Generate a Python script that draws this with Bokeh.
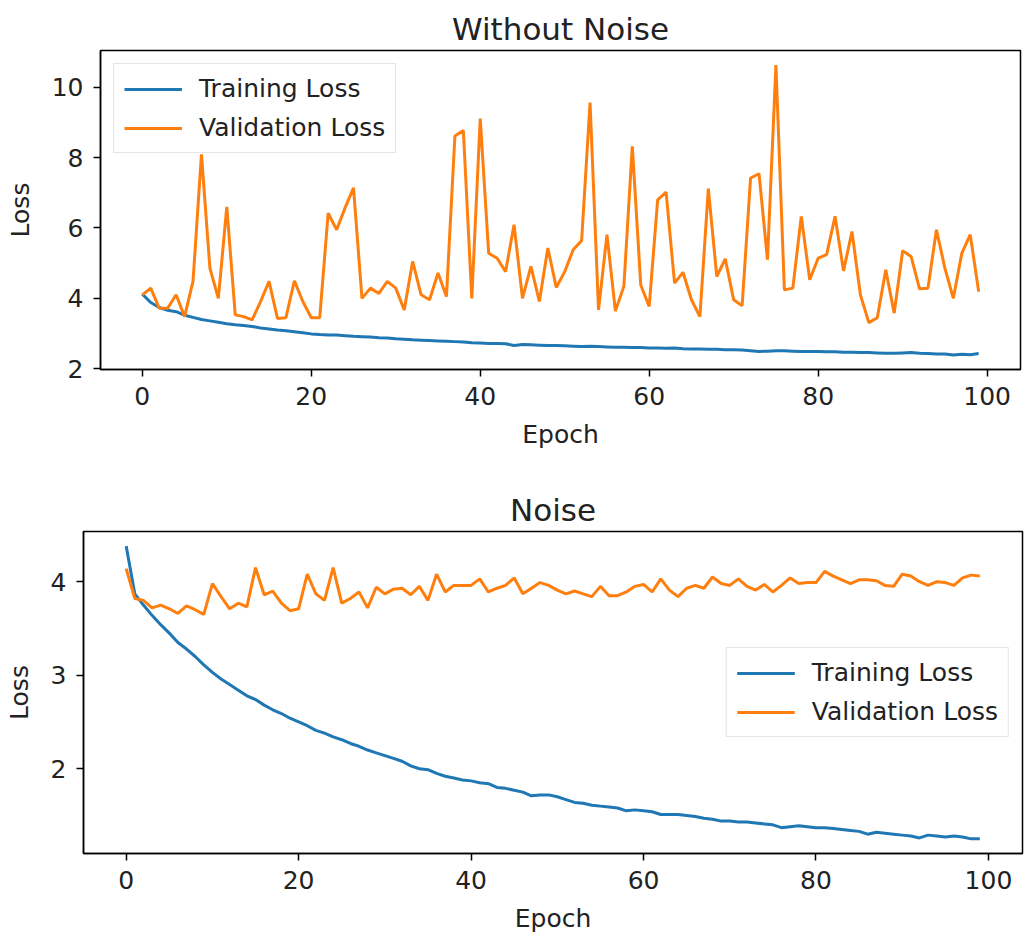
from bokeh.plotting import figure
from bokeh.layouts import column
from bokeh.models import FixedTicker, Range1d, Legend, LegendItem
from bokeh.embed import file_html
from bokeh.resources import INLINE

epochs = list(range(100))

train_clean = [4.12, 3.88, 3.74, 3.66, 3.62, 3.52, 3.46, 3.40, 3.36, 3.32,
               3.28, 3.25, 3.23, 3.20, 3.16, 3.13, 3.10, 3.08, 3.05, 3.02,
               2.99, 2.97, 2.96, 2.96, 2.94, 2.92, 2.91, 2.90, 2.88, 2.87,
               2.85, 2.84, 2.82, 2.81, 2.80, 2.79, 2.78, 2.77, 2.76, 2.74,
               2.73, 2.72, 2.72, 2.71, 2.66, 2.69, 2.68, 2.67, 2.66, 2.66,
               2.65, 2.64, 2.63, 2.64, 2.63, 2.62, 2.61, 2.61, 2.60, 2.60,
               2.59, 2.59, 2.58, 2.59, 2.57, 2.56, 2.56, 2.55, 2.55, 2.54,
               2.54, 2.53, 2.51, 2.49, 2.50, 2.51, 2.51, 2.50, 2.49, 2.49,
               2.49, 2.48, 2.48, 2.47, 2.47, 2.46, 2.46, 2.45, 2.44, 2.44,
               2.45, 2.46, 2.44, 2.43, 2.42, 2.42, 2.39, 2.41, 2.40, 2.43]

val_clean = [4.10, 4.29, 3.72, 3.72, 4.10, 3.48, 4.48, 8.09, 4.86, 4.00,
             6.60, 3.53, 3.48, 3.39, 3.91, 4.48, 3.43, 3.45, 4.50, 3.91,
             3.45, 3.45, 6.42, 5.95, 6.57, 7.14, 4.00, 4.29, 4.14, 4.48,
             4.29, 3.67, 5.05, 4.10, 3.96, 4.72, 4.05, 8.61, 8.77, 4.00,
             9.11, 5.28, 5.14, 4.76, 6.09, 4.00, 4.91, 3.91, 5.43, 4.31,
             4.76, 5.38, 5.64, 9.56, 3.67, 5.81, 3.64, 4.34, 8.32, 4.38,
             3.77, 6.80, 7.02, 4.43, 4.74, 3.96, 3.48, 7.12, 4.62, 5.12,
             3.96, 3.79, 7.42, 7.54, 5.10, 10.63, 4.24, 4.29, 6.33, 4.53,
             5.14, 5.24, 6.33, 4.78, 5.90, 4.10, 3.31, 3.45, 4.81, 3.58,
             5.35, 5.19, 4.27, 4.29, 5.95, 4.86, 4.00, 5.28, 5.81, 4.19]

train_noise = [4.38, 3.87, 3.75, 3.64, 3.54, 3.45, 3.35, 3.28, 3.20, 3.11,
               3.03, 2.96, 2.90, 2.84, 2.78, 2.74, 2.68, 2.63, 2.59, 2.54,
               2.50, 2.46, 2.41, 2.38, 2.34, 2.31, 2.27, 2.24, 2.20, 2.17,
               2.14, 2.11, 2.08, 2.03, 2.00, 1.99, 1.95, 1.92, 1.90, 1.88,
               1.87, 1.85, 1.84, 1.80, 1.79, 1.77, 1.75, 1.71, 1.72, 1.72,
               1.70, 1.67, 1.64, 1.63, 1.61, 1.60, 1.59, 1.58, 1.55, 1.56,
               1.55, 1.54, 1.51, 1.51, 1.51, 1.50, 1.49, 1.47, 1.46, 1.44,
               1.44, 1.43, 1.43, 1.42, 1.41, 1.40, 1.37, 1.38, 1.39, 1.38,
               1.37, 1.37, 1.36, 1.35, 1.34, 1.33, 1.30, 1.32, 1.31, 1.30,
               1.29, 1.28, 1.26, 1.29, 1.28, 1.27, 1.28, 1.27, 1.25, 1.25]

val_noise = [4.14, 3.82, 3.80, 3.72, 3.75, 3.71, 3.66, 3.74, 3.70, 3.65,
             3.98, 3.84, 3.71, 3.77, 3.73, 4.15, 3.86, 3.90, 3.77, 3.69,
             3.71, 4.08, 3.87, 3.80, 4.15, 3.77, 3.82, 3.89, 3.72, 3.94,
             3.87, 3.92, 3.93, 3.86, 3.95, 3.80, 4.08, 3.89, 3.96, 3.96,
             3.96, 4.03, 3.89, 3.93, 3.96, 4.04, 3.87, 3.93, 3.99, 3.96,
             3.91, 3.87, 3.90, 3.87, 3.84, 3.95, 3.85, 3.85, 3.89, 3.95,
             3.97, 3.89, 4.03, 3.91, 3.84, 3.93, 3.96, 3.93, 4.05, 3.98,
             3.96, 4.03, 3.95, 3.91, 3.97, 3.89, 3.96, 4.04, 3.98, 3.99,
             3.99, 4.11, 4.06, 4.02, 3.98, 4.02, 4.02, 4.01, 3.96, 3.95,
             4.08, 4.06, 4.00, 3.96, 4.00, 3.99, 3.96, 4.04, 4.07, 4.06]

x_ticks = [0, 20, 40, 60, 80, 100]
y_ticks_clean = [2, 4, 6, 8, 10]
y_ticks_noise = [2, 3, 4]

BLUE = "#1f77b4"
ORANGE = "#ff7f0e"
TXT = "#222222"
FONT = "DejaVu Sans"


def padded(vals):
    lo, hi = min(vals), max(vals)
    m = 0.05 * (hi - lo)
    return lo - m, hi + m


def make(title, train, val, yticks, w, h, bl, br, bt, bb, legend_loc):
    xr = padded(epochs)
    yr = padded(train + val)
    p = figure(width=w, height=h, output_backend="svg", toolbar_location=None,
               x_range=Range1d(*xr), y_range=Range1d(*yr),
               min_border_left=bl, min_border_right=br,
               min_border_top=bt, min_border_bottom=bb,
               title=title)
    p.title.align = "center"
    p.title.text_font = FONT
    p.title.text_font_size = "31px"
    p.title.text_font_style = "normal"
    p.title.text_color = TXT
    p.title.standoff = 8
    p.xgrid.visible = False
    p.ygrid.visible = False
    p.outline_line_color = "black"
    p.outline_line_width = 1.5
    p.background_fill_color = "white"
    p.border_fill_color = "white"

    l1 = p.line(epochs, train, line_color=BLUE, line_width=3)
    l2 = p.line(epochs, val, line_color=ORANGE, line_width=3)

    p.xaxis.ticker = FixedTicker(ticks=x_ticks)
    p.yaxis.ticker = FixedTicker(ticks=yticks)
    p.xaxis.axis_label = "Epoch"
    p.yaxis.axis_label = "Loss"
    for ax in (p.xaxis[0], p.yaxis[0]):
        ax.axis_line_color = "black"
        ax.axis_line_width = 1.5
        ax.major_tick_line_color = "black"
        ax.major_tick_line_width = 1.5
        ax.major_tick_out = 7
        ax.major_tick_in = 0
        ax.minor_tick_line_color = None
        ax.major_label_text_font = FONT
        ax.major_label_text_font_size = "25px"
        ax.major_label_text_color = TXT
        ax.axis_label_text_font = FONT
        ax.axis_label_text_font_size = "25px"
        ax.axis_label_text_font_style = "normal"
        ax.axis_label_text_color = TXT
    p.xaxis.major_label_standoff = 10
    p.xaxis.axis_label_standoff = 12
    p.yaxis.major_label_standoff = 10
    p.yaxis.axis_label_standoff = 14

    leg = Legend(items=[LegendItem(label="Training Loss", renderers=[l1]),
                        LegendItem(label="Validation Loss", renderers=[l2])],
                 location=legend_loc)
    leg.label_text_font = FONT
    leg.label_text_font_size = "25px"
    leg.label_text_color = TXT
    leg.glyph_width = 58
    leg.glyph_height = 26
    leg.label_height = 26
    leg.label_standoff = 17
    leg.spacing = 10
    leg.padding = 10
    leg.margin = 13
    leg.border_line_color = "#cccccc"
    leg.border_line_width = 1.5
    leg.background_fill_color = "white"
    leg.background_fill_alpha = 0.8
    p.add_layout(leg)
    return p


p1 = make("Without Noise", train_clean, val_clean, y_ticks_clean,
          1035, 470, 100, 15, 50, 101, "top_left")
p2 = make("Noise", train_noise, val_noise, y_ticks_noise,
          1035, 465, 83, 13, 61, 82, "right")

layout = column(column(p1), column(p2), spacing=0)
open("out.html", "w").write(file_html(layout, INLINE))
